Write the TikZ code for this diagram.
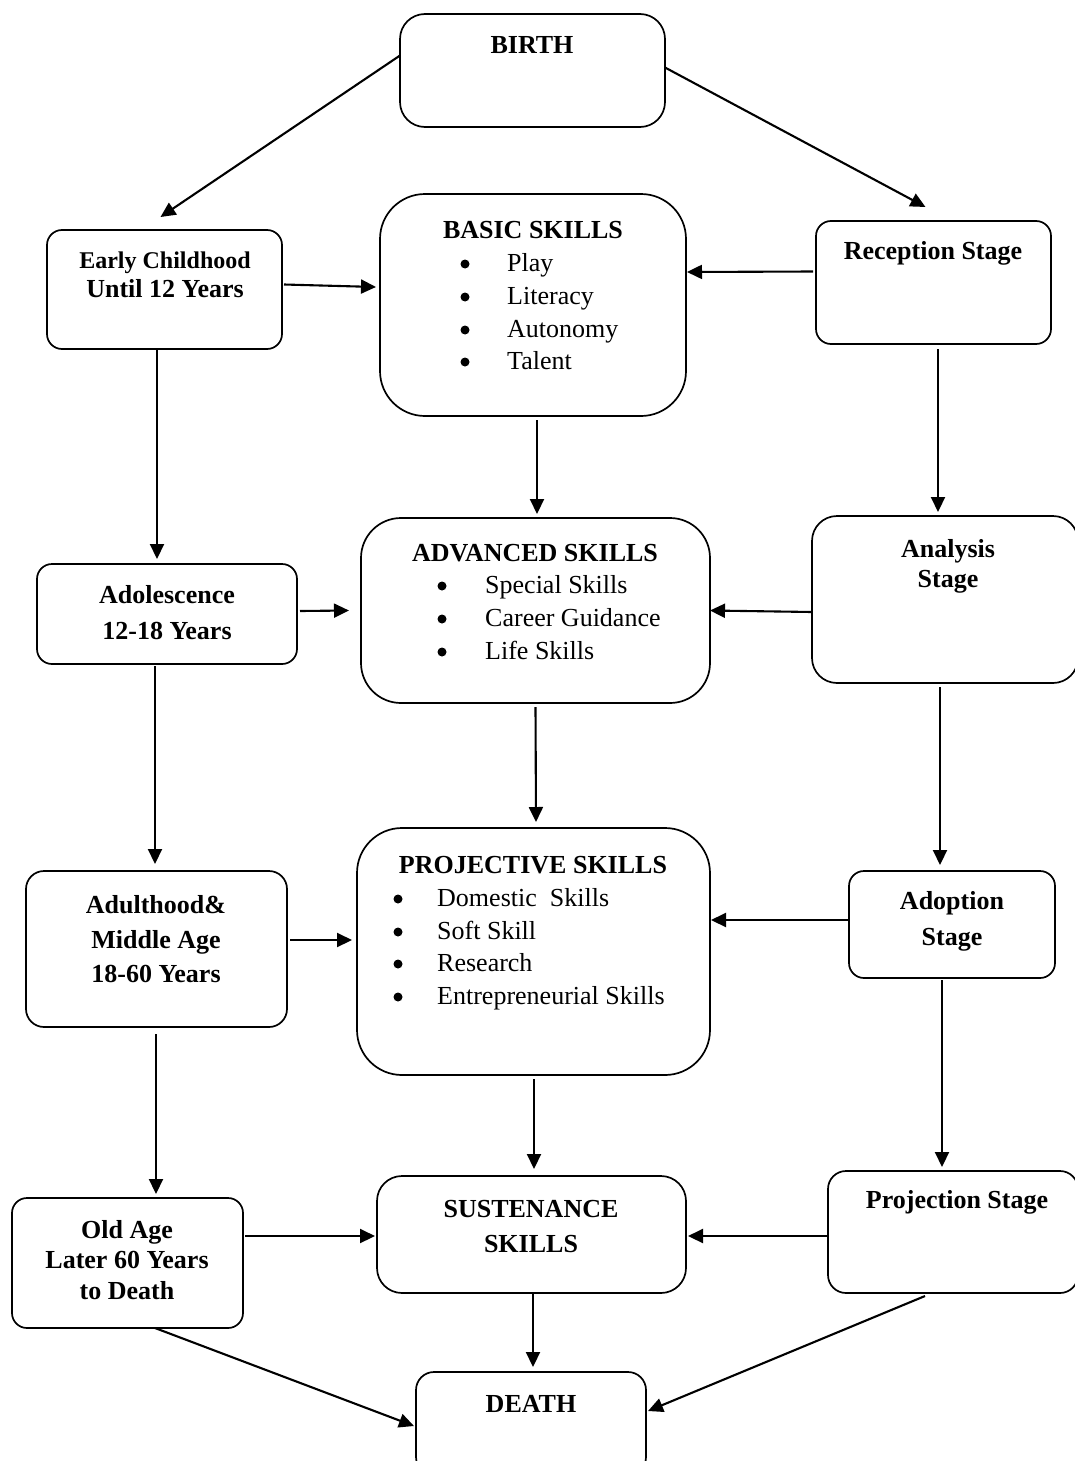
\documentclass[tikz,border=0pt]{standalone}
\usepackage{fontspec}
\setmainfont{Liberation Serif}
\usetikzlibrary{arrows.meta}
\begin{document}
\begin{tikzpicture}[x=1pt,y=1pt,
  box/.style={draw,line width=1.7pt,inner sep=0pt,outer sep=0pt},
  arr/.style={line width=2.1pt,-{Triangle[length=15pt,width=14pt]}},
  ttl/.style={font=\bfseries\fontsize{26}{30}\selectfont,align=center,inner sep=0pt},
  itm/.style={font=\fontsize{26}{30}\selectfont,anchor=base west,inner sep=0pt},
  bul/.style={circle,fill=black,inner sep=0pt,minimum size=9pt}]
\path[use as bounding box,clip] (0,0) rectangle (1075,-1461);
\fill[white] (0,0) rectangle (1075,-1461);
% boxes
\node[box,rounded corners=25pt,minimum width=265pt,minimum height=113pt] (birth) at (532.5,-70.5) {};
\node[box,rounded corners=15pt,minimum width=235pt,minimum height=119pt] (early) at (164.5,-289.5) {};
\node[box,rounded corners=45pt,minimum width=306pt,minimum height=222pt] (basic) at (533,-305) {};
\node[box,rounded corners=15pt,minimum width=235pt,minimum height=123pt] (reception) at (933.5,-282.5) {};
\node[box,rounded corners=15pt,minimum width=260pt,minimum height=100pt] (adol) at (167,-614) {};
\node[box,rounded corners=40pt,minimum width=349pt,minimum height=185pt] (adv) at (535.5,-610.5) {};
\node[box,rounded corners=25pt,minimum width=266pt,minimum height=167pt] (analysis) at (945,-599.5) {};
\node[box,rounded corners=18pt,minimum width=261pt,minimum height=156pt] (adult) at (156.5,-949) {};
\node[box,rounded corners=45pt,minimum width=353pt,minimum height=247pt] (proj) at (533.5,-951.5) {};
\node[box,rounded corners=15pt,minimum width=206pt,minimum height=107pt] (adoption) at (952,-924.5) {};
\node[box,rounded corners=15pt,minimum width=231pt,minimum height=130pt] (oldage) at (127.5,-1263) {};
\node[box,rounded corners=25pt,minimum width=309pt,minimum height=117pt] (sust) at (531.5,-1234.5) {};
\node[box,rounded corners=18pt,minimum width=250pt,minimum height=122pt] (projection) at (953,-1232) {};
\node[box,rounded corners=18pt,minimum width=230pt,minimum height=103pt] (death) at (531,-1423.5) {};
% texts
\node[ttl] (birthT) at (532,-45) {BIRTH};
\node[ttl,font=\bfseries\fontsize{26}{29}\selectfont] (earlyT) at (165,-274.5) {{\fontsize{24}{29}\selectfont Early Childhood}\\Until 12 Years};
\node[ttl] (basicT) at (533,-230) {BASIC SKILLS};
\node[bul] (b1) at (465,-264) {}; \node[itm] (i1) at (507,-271) {Play};
\node[bul] (b2) at (465,-297) {}; \node[itm] (i2) at (507,-304) {Literacy};
\node[bul] (b3) at (465,-330) {}; \node[itm] (i3) at (507,-337) {Autonomy};
\node[bul] (b4) at (465,-362) {}; \node[itm] (i4) at (507,-369) {Talent};
\node[ttl] (receptionT) at (933,-253) {Reception Stage};
\node[ttl,font=\bfseries\fontsize{26}{36}\selectfont] (adolT) at (167,-613) {Adolescence\\12-18 Years};
\node[ttl] (advT) at (535,-553) {ADVANCED SKILLS};
\node[bul] (b5) at (442,-586) {}; \node[itm] (i5) at (485,-593) {Special Skills};
\node[bul] (b6) at (442,-619) {}; \node[itm] (i6) at (485,-626) {Career Guidance};
\node[bul] (b7) at (442,-652) {}; \node[itm] (i7) at (485,-659) {Life Skills};
\node[ttl] (analysisT) at (948,-566) {Analysis\\Stage};
\node[ttl,font=\bfseries\fontsize{26}{34.5}\selectfont] (adultT) at (156,-939.5) {Adulthood\&\\Middle Age\\18-60 Years};
\node[ttl] (projT) at (533,-865) {PROJECTIVE SKILLS};
\node[bul] (b8) at (398,-899) {}; \node[itm] (i8) at (437,-906) {Domestic\ \ Skills};
\node[bul] (b9) at (398,-932) {}; \node[itm] (i9) at (437,-939) {Soft Skill};
\node[bul] (b10) at (398,-964) {}; \node[itm] (i10) at (437,-971) {Research};
\node[bul] (b11) at (398,-997) {}; \node[itm] (i11) at (437,-1004) {Entrepreneurial Skills};
\node[ttl,font=\bfseries\fontsize{26}{36}\selectfont] (adoptionT) at (952,-921) {Adoption\\Stage};
\node[ttl,font=\bfseries\fontsize{26}{30.5}\selectfont] (oldageT) at (127,-1260) {Old Age\\Later 60 Years\\to Death};
\node[ttl,font=\bfseries\fontsize{26}{35}\selectfont] (sustT) at (531,-1227) {SUSTENANCE\\SKILLS};
\node[ttl] (projectionT) at (957,-1202) {Projection Stage};
\node[ttl] (deathT) at (531,-1404) {DEATH};
% connectors
\draw[arr] ([yshift=15pt]birth.west) -- ([xshift=-4pt,yshift=13pt]early.north);
\draw[arr] ([yshift=3pt]birth.east) -- ([xshift=-8pt,yshift=14pt]reception.north);
\draw[arr] ([xshift=2pt,yshift=5pt]early.east) -- ([xshift=-4pt,yshift=18pt]basic.west);
\draw[arr] ([xshift=-3pt,yshift=11pt]reception.west) -- ([xshift=1pt,yshift=33pt]basic.east);
\draw[arr] ([xshift=-7.5pt]early.south) -- ([xshift=-10pt,yshift=5pt]adol.north);
\draw[arr] ([xshift=4.5pt,yshift=-5pt]reception.south) -- ([xshift=-7pt,yshift=4pt]analysis.north);
\draw[arr] ([xshift=4pt,yshift=-4pt]basic.south) -- ([xshift=1.5pt,yshift=4pt]adv.north);
\draw[arr] ([xshift=3pt,yshift=3pt]adol.east) -- ([xshift=-12pt]adv.west);
\draw[arr] ([yshift=-12.5pt]analysis.west) -- (adv.east);
\draw[arr] ([yshift=-4pt]adv.south) -- ([xshift=2.5pt,yshift=6pt]proj.north);
\draw[arr] ([xshift=-12pt,yshift=-2pt]adol.south) -- ([xshift=-1.5pt,yshift=7pt]adult.north);
\draw[arr] ([xshift=-5pt,yshift=-4pt]analysis.south) -- ([xshift=-12pt,yshift=6pt]adoption.north);
\draw[arr] ([xshift=3pt,yshift=9pt]adult.east) -- ([xshift=-5pt,yshift=11.5pt]proj.west);
\draw[arr] ([yshift=4.5pt]adoption.west) -- ([xshift=1pt,yshift=31.5pt]proj.east);
\draw[arr] ([xshift=-0.5pt,yshift=-7pt]adult.south) -- ([xshift=28.5pt,yshift=4pt]oldage.north);
\draw[arr] ([xshift=0.5pt,yshift=-4pt]proj.south) -- ([xshift=2.5pt,yshift=7pt]sust.north);
\draw[arr] ([xshift=-10pt,yshift=-2pt]adoption.south) -- ([xshift=-11pt,yshift=4pt]projection.north);
\draw[arr] ([xshift=2pt,yshift=27pt]oldage.east) -- ([xshift=-2pt,yshift=-1.5pt]sust.west);
\draw[arr] ([yshift=-4pt]projection.west) -- ([xshift=2pt,yshift=-1.5pt]sust.east);
\draw[arr] ([xshift=1.5pt]sust.south) -- ([xshift=2pt,yshift=5pt]death.north);
\draw[arr] ([xshift=27.5pt]oldage.south) -- ([xshift=-2pt,yshift=-2.5pt]death.west);
\draw[arr] ([xshift=-28pt,yshift=-3pt]projection.south) -- ([xshift=2pt,yshift=12.5pt]death.east);
\end{tikzpicture}
\end{document}
